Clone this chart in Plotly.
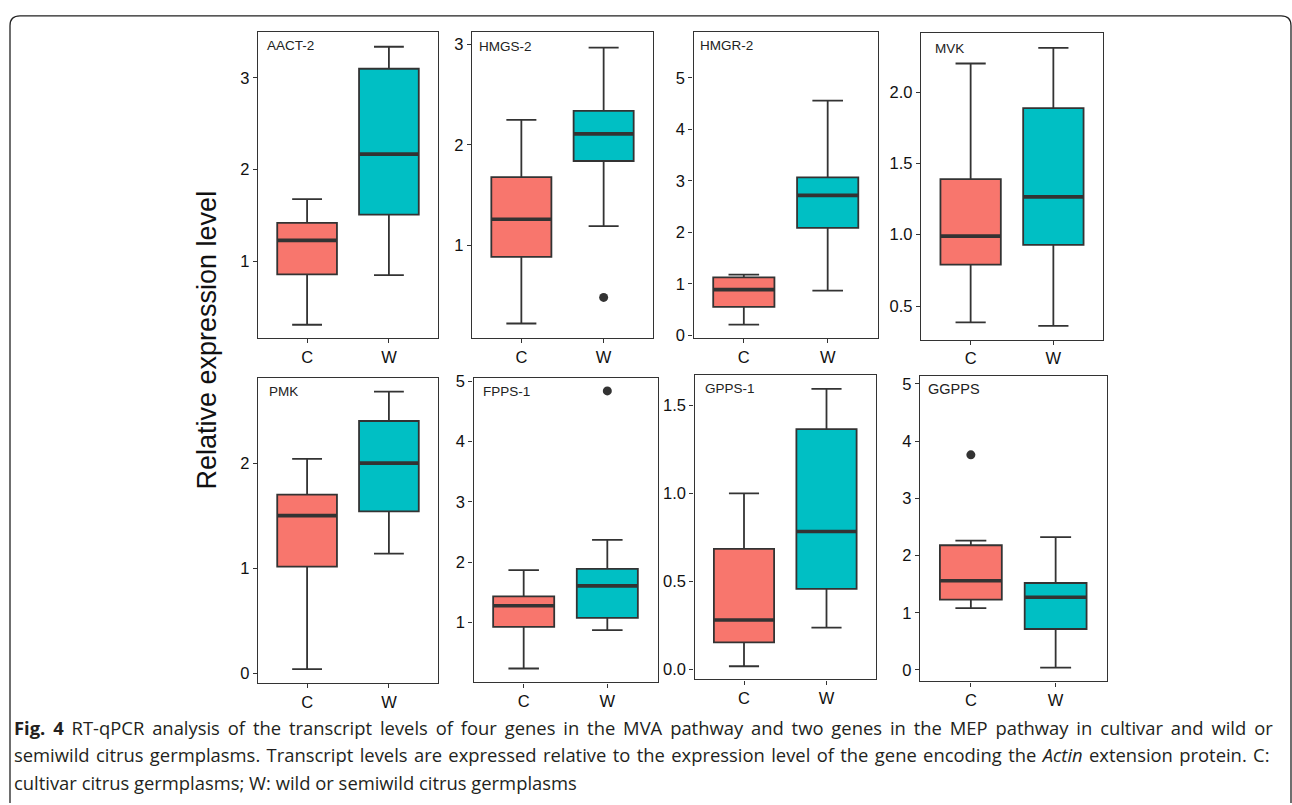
import plotly.graph_objects as go

# ---- data: relative expression, box-plot summaries per gene ----
genes = ["AACT-2", "HMGS-2", "HMGR-2", "MVK", "PMK", "FPPS-1", "GPPS-1", "GGPPS"]
groups = ["C", "W"]

c_lower = [0.31, 0.22, 0.21, 0.385, 0.04, 0.24, 0.017, 1.08]
c_q1 = [0.86, 0.885, 0.555, 0.79, 1.016, 0.93, 0.153, 1.23]
c_median = [1.23, 1.26, 0.89, 0.99, 1.50, 1.28, 0.28, 1.56]
c_q3 = [1.42, 1.68, 1.13, 1.389, 1.70, 1.435, 0.684, 2.18]
c_upper = [1.68, 2.25, 1.18, 2.20, 2.04, 1.87, 1.00, 2.26]

w_lower = [0.85, 1.19, 0.87, 0.36, 1.14, 0.875, 0.237, 0.04]
w_q1 = [1.51, 1.84, 2.09, 0.928, 1.54, 1.08, 0.457, 0.716]
w_median = [2.17, 2.11, 2.72, 1.265, 2.00, 1.61, 0.783, 1.27]
w_q3 = [3.10, 2.34, 3.07, 1.887, 2.40, 1.89, 1.365, 1.52]
w_upper = [3.34, 2.97, 4.56, 2.31, 2.68, 2.37, 1.594, 2.32]

# outliers: (gene index, group index, value)
outlier_gene = [1, 5, 7]
outlier_group = [1, 1, 0]
outlier_value = [0.48, 4.84, 3.76]

# y-axis ticks per panel
y_ticks = [
    [1, 2, 3],
    [1, 2, 3],
    [0, 1, 2, 3, 4, 5],
    [0.5, 1.0, 1.5, 2.0],
    [0, 1, 2],
    [1, 2, 3, 4, 5],
    [0.0, 0.5, 1.0, 1.5],
    [0, 1, 2, 3, 4, 5],
]
y_tick_fmt = ["{:.0f}", "{:.0f}", "{:.0f}", "{:.1f}", "{:.0f}", "{:.0f}", "{:.1f}", "{:.0f}"]

# ---- layout geometry (pixels on a 1292 x 805 page) ----
W, H = 1292, 805
y_ranges = [
    [0.165, 3.50], [0.08, 3.13], [-0.04, 5.9], [0.265, 2.417],
    [-0.09, 2.81], [0.01, 5.055], [-0.058, 1.673], [-0.2, 5.13],
]
# panel frames: left, right, top, bottom
frames = [
    (258, 438, 26.5, 337.5), (472, 653, 26, 337), (693.5, 878, 26, 337), (921, 1103, 27, 339),
    (258, 438, 378, 688), (473.5, 657.5, 378, 687.5), (694.5, 876, 375, 684.5), (920, 1106.5, 376.5, 686.5),
]
# gene label positions (left x, centre y)
label_pos = [
    (265, 40), (477, 41), (698, 40), (933, 43),
    (267, 392), (481, 392), (703, 389), (926, 389),
]
label_size = [13.5, 13.5, 13.5, 13.5, 13.5, 13.5, 13.5, 14.5]

FILL = ["#F8766D", "#00BFC4"]
INK = "#333333"
BOX_W = 0.73


def px(x):
    return x / W


def py(y):
    return 1 - y / H


fig = go.Figure()
layout = {}

for i, gene in enumerate(genes):
    k = i + 1
    xa = "x" if k == 1 else f"x{k}"
    ya = "y" if k == 1 else f"y{k}"
    stats = [
        (c_lower[i], c_q1[i], c_median[i], c_q3[i], c_upper[i]),
        (w_lower[i], w_q1[i], w_median[i], w_q3[i], w_upper[i]),
    ]
    for g, (lo, q1, med, q3, hi) in enumerate(stats):
        fig.add_trace(go.Box(
            x=[g], q1=[q1], median=[med], q3=[q3], lowerfence=[lo], upperfence=[hi],
            width=BOX_W, fillcolor=FILL[g], line=dict(color=INK, width=1.8),
            boxpoints=False, showlegend=False, hoverinfo="skip",
            xaxis=xa, yaxis=ya,
        ))
        # thicker median bar, as in ggplot2
        fig.add_trace(go.Scatter(
            x=[g - BOX_W / 2, g + BOX_W / 2], y=[med, med], mode="lines",
            line=dict(color=INK, width=3.6), showlegend=False, hoverinfo="skip",
            xaxis=xa, yaxis=ya,
        ))
    for gi, grp, val in zip(outlier_gene, outlier_group, outlier_value):
        if gi == i:
            fig.add_trace(go.Scatter(
                x=[grp], y=[val], mode="markers",
                marker=dict(color=INK, size=9), showlegend=False, hoverinfo="skip",
                xaxis=xa, yaxis=ya,
            ))

    left, right, top, bottom = frames[i]
    axis_common = dict(
        showline=True, mirror=True, linecolor=INK, linewidth=1.3,
        showgrid=False, zeroline=False, ticks="outside", ticklen=4,
        tickcolor=INK, tickwidth=1.2,
        tickfont=dict(family="Liberation Sans, Arial, sans-serif", size=16.5, color="#111111"),
    )
    layout[xa.replace("x", "xaxis")] = dict(
        axis_common, domain=[px(left), px(right)], anchor=ya,
        range=[-0.6, 1.6], tickmode="array", tickvals=[0, 1], ticktext=groups,
    )
    layout[ya.replace("y", "yaxis")] = dict(
        axis_common, domain=[py(bottom), py(top)], anchor=xa,
        range=y_ranges[i], tickmode="array", tickvals=y_ticks[i],
        ticktext=[y_tick_fmt[i].format(v) for v in y_ticks[i]],
    )

annotations = []
for i, gene in enumerate(genes):
    lx, ly = label_pos[i]
    annotations.append(dict(
        text=gene, x=px(lx), y=py(ly), xref="paper", yref="paper",
        xanchor="left", yanchor="middle", showarrow=False,
        font=dict(family="Liberation Sans, Arial, sans-serif", size=label_size[i], color="#222222"),
    ))

# shared y title
annotations.append(dict(
    text="Relative expression level", x=px(207), y=py(340), xref="paper", yref="paper",
    xanchor="center", yanchor="middle", textangle=-90, showarrow=False,
    font=dict(family="Liberation Sans Narrow, Liberation Sans, Arial, sans-serif", size=27, color="#111111"),
))

# figure caption (justified block: first two lines get extra word spacing)
caption = [
    "<b>Fig. 4</b> RT-qPCR analysis of the transcript levels of four genes in the MVA pathway and two genes in the MEP pathway in cultivar and wild or",
    "semiwild citrus germplasms. Transcript levels are expressed relative to the expression level of the gene encoding the <i>Actin</i> extension protein. C:",
    "cultivar citrus germplasms; W: wild or semiwild citrus germplasms",
]
caption_word_gap = [3.1, 1.6, 0.0]
caption_y = [733, 761, 789]
for line, gap, cy in zip(caption, caption_word_gap, caption_y):
    annotations.append(dict(
        text=f'<span style="word-spacing:{gap}px">{line}</span>',
        x=px(12), y=py(cy), xref="paper", yref="paper",
        xanchor="left", yanchor="middle", showarrow=False,
        font=dict(family="Open Sans, Noto Sans, sans-serif", size=18.4, color="#231f20"),
    ))

# rounded outer frame, open at the bottom
r = 10
x0, x1, y0 = 10, 1291, 10
path = (
    f"M {px(x0)},{py(H + 5)} L {px(x0)},{py(y0 + r)} "
    f"Q {px(x0)},{py(y0)} {px(x0 + r)},{py(y0)} "
    f"L {px(x1 - r)},{py(y0)} Q {px(x1)},{py(y0)} {px(x1)},{py(y0 + r)} "
    f"L {px(x1)},{py(H + 5)}"
)
shapes = [dict(type="path", path=path, xref="paper", yref="paper",
               line=dict(color="#222222", width=1.3))]

fig.update_layout(
    width=W, height=H, margin=dict(l=0, r=0, t=0, b=0),
    paper_bgcolor="white", plot_bgcolor="white",
    annotations=annotations, shapes=shapes, showlegend=False,
    **layout,
)

fig.write_html("out.html")
